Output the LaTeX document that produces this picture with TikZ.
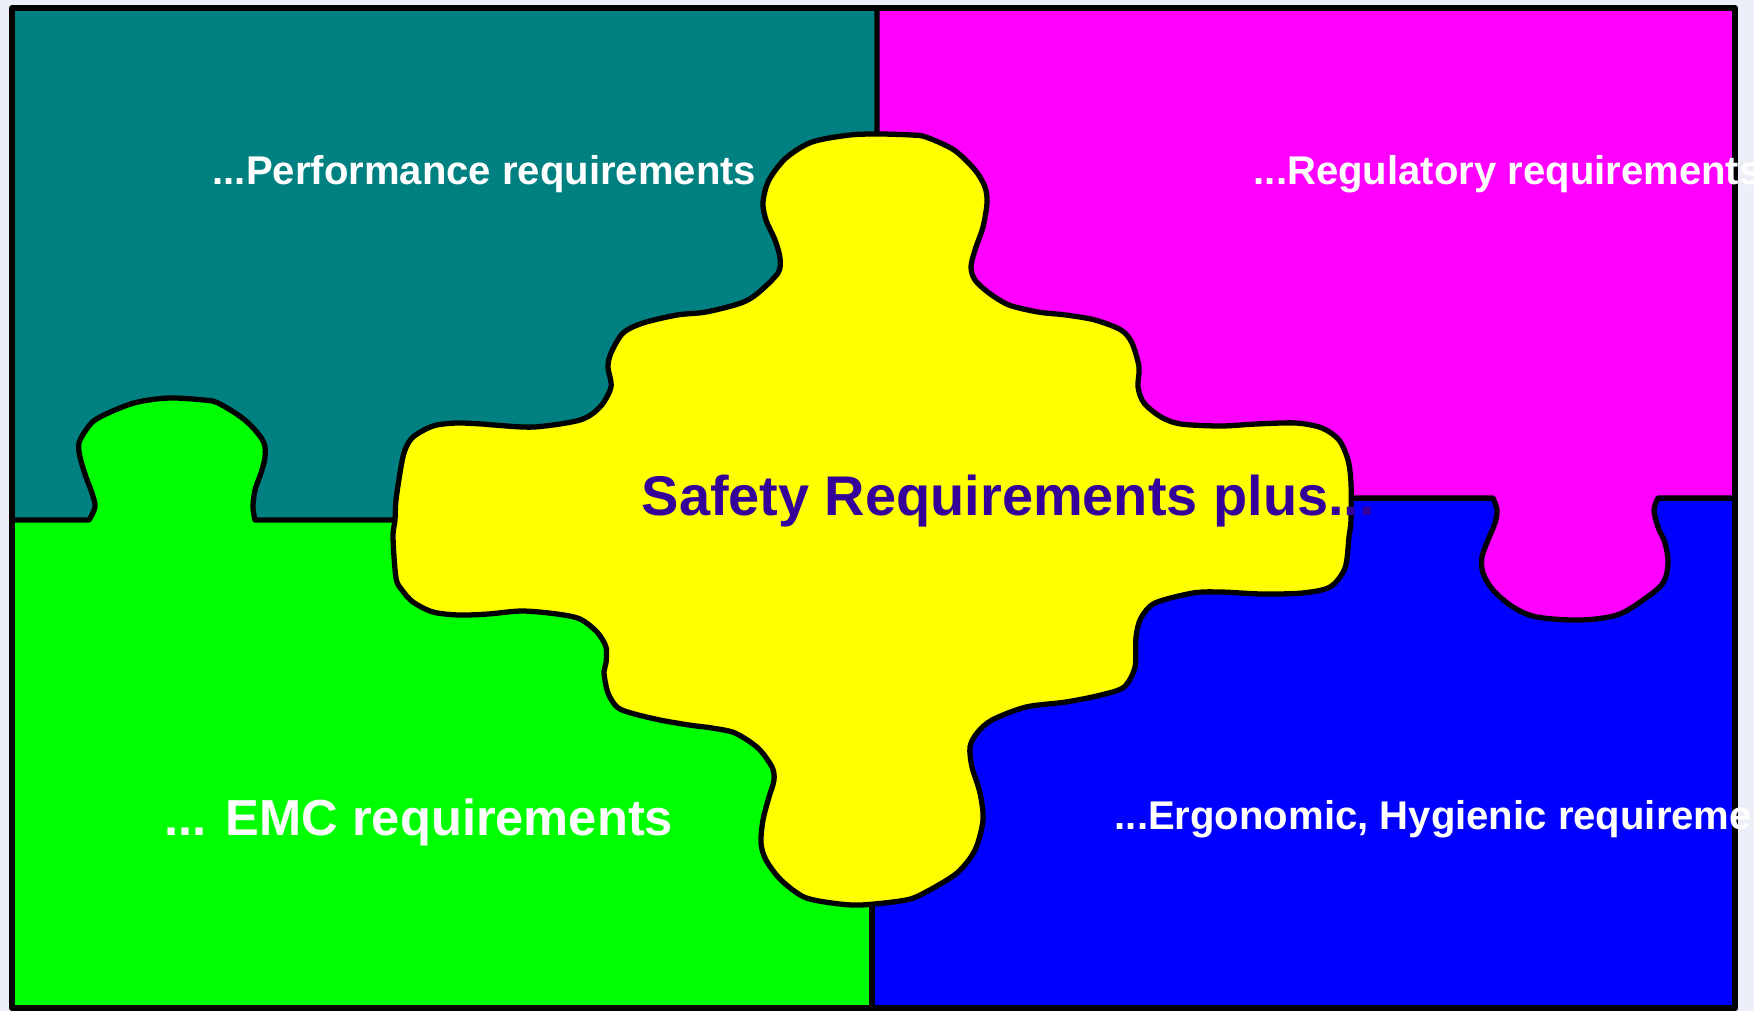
\documentclass[tikz,border=0pt]{standalone}
\usepackage{fontspec}
\setmainfont{Liberation Sans}
\definecolor{bgc}{RGB}{236,238,248}
\definecolor{tealc}{RGB}{0,128,128}
\definecolor{magc}{RGB}{255,0,255}
\definecolor{greenc}{RGB}{0,255,0}
\definecolor{bluec}{RGB}{0,0,255}
\definecolor{yellowc}{RGB}{255,255,0}
\definecolor{purplec}{RGB}{51,0,153}
\begin{document}
\begin{tikzpicture}[x=0.01cm,y=-0.01cm,
  piece/.style={draw=black, line width=1.5pt, line join=round},
  ptext/.style={text=white, font=\bfseries, inner sep=0pt, anchor=base west}]
\useasboundingbox (0,0) rectangle (1754,1011);
\fill[bgc] (0,0) rectangle (1754,1011);
\clip (0,0) rectangle (1754,1011);
% teal background piece
\fill[tealc] (12,8) rectangle (1735,1008);
% green piece with tab
\path[piece, fill=greenc] (12,520) -- plot[smooth, tension=0.55] coordinates {
  (89,520) (95,507) (92,493) (86,477) (80,457) (79,443) (86,430) (95,420)
  (115,410) (138,402) (169,398) (204,400) (218,403) (241,417) (255,430)
  (264,443) (265,457) (261,473) (255,490) (253,507) (255,520)}
  -- (872,520) -- (872,1008) -- (12,1008) -- cycle;
% blue piece
\path[piece, fill=bluec] (872,498) rectangle (1735,1008);
% magenta piece with tab
\path[piece, fill=magc] (877,8) -- (1735,8) -- (1735,498) -- plot[smooth, tension=0.55] coordinates {
  (1658,498) (1654,510) (1658,527) (1665,543) (1668,563) (1663,583) (1643,600)
  (1617,615) (1580,620) (1537,617) (1513,607) (1493,590) (1483,573) (1482,557)
  (1488,540) (1495,523) (1497,510) (1493,498)}
  -- (877,498) -- cycle;
% yellow central piece
\path[piece, fill=yellowc] plot[smooth cycle, tension=0.5] coordinates {
  (850,135) (880,134) (911,135) (926,137) (954,150) (975,170) (985,187) (987,203)
  (983,227) (975,250) (971,267) (975,280) (989,293) (1009,305) (1038,312)
  (1066,315) (1095,320) (1121,330) (1132,343) (1139,367) (1138,387) (1144,403)
  (1161,417) (1181,424) (1221,426) (1256,424) (1296,423) (1322,428) (1339,440)
  (1348,460) (1351,483) (1351,520) (1349,537) (1345,568) (1330,587) (1302,593)
  (1262,594) (1221,592) (1193,593) (1155,603) (1141,618) (1136,637) (1135,667)
  (1124,687) (1101,695) (1066,702) (1026,707) (992,720) (977,733) (970,747)
  (972,767) (980,793) (983,820) (975,850) (957,873) (926,892) (906,900)
  (861,905) (832,903) (804,897) (781,880) (766,860) (761,843) (763,820)
  (769,797) (774,780) (772,767) (758,748) (735,733) (712,728) (689,725)
  (660,720) (631,713) (617,707) (608,693) (604,673) (606,663) (606,647)
  (597,632) (580,619) (557,614) (522,611) (488,614) (459,615) (433,612)
  (413,602) (402,590) (396,578) (393,537) (395,520) (396,500) (401,467)
  (405,450) (413,437) (433,426) (456,423) (482,424) (494,425) (534,427)
  (580,420) (600,407) (611,387) (608,367) (611,353) (623,333) (643,323)
  (677,315) (706,312) (741,303) (758,293) (778,273) (780,258) (775,240)
  (766,220) (763,202) (769,180) (786,158) (812,142)};
% outer frame
\draw[piece] (12,8) rectangle (1735,1008);
% texts
\node[ptext, font=\bfseries\fontsize{11.4}{13}\selectfont] (perf) at (212,184) {...Performance requirements};
\node[ptext, font=\bfseries\fontsize{11.4}{13}\selectfont] (regu) at (1253,184) {...Regulatory requirements};
\node[ptext, font=\bfseries\fontsize{14.4}{16}\selectfont] (emc) at (164,835) {... EMC requirements};
\node[ptext, font=\bfseries\fontsize{11.4}{13}\selectfont] (ergo) at (1114,829) {...Ergonomic, Hygienic requirements};
\node[ptext, text=purplec, font=\bfseries\fontsize{15.9}{18}\selectfont] (safety) at (641,515) {Safety Requirements plus...};
\end{tikzpicture}
\end{document}
